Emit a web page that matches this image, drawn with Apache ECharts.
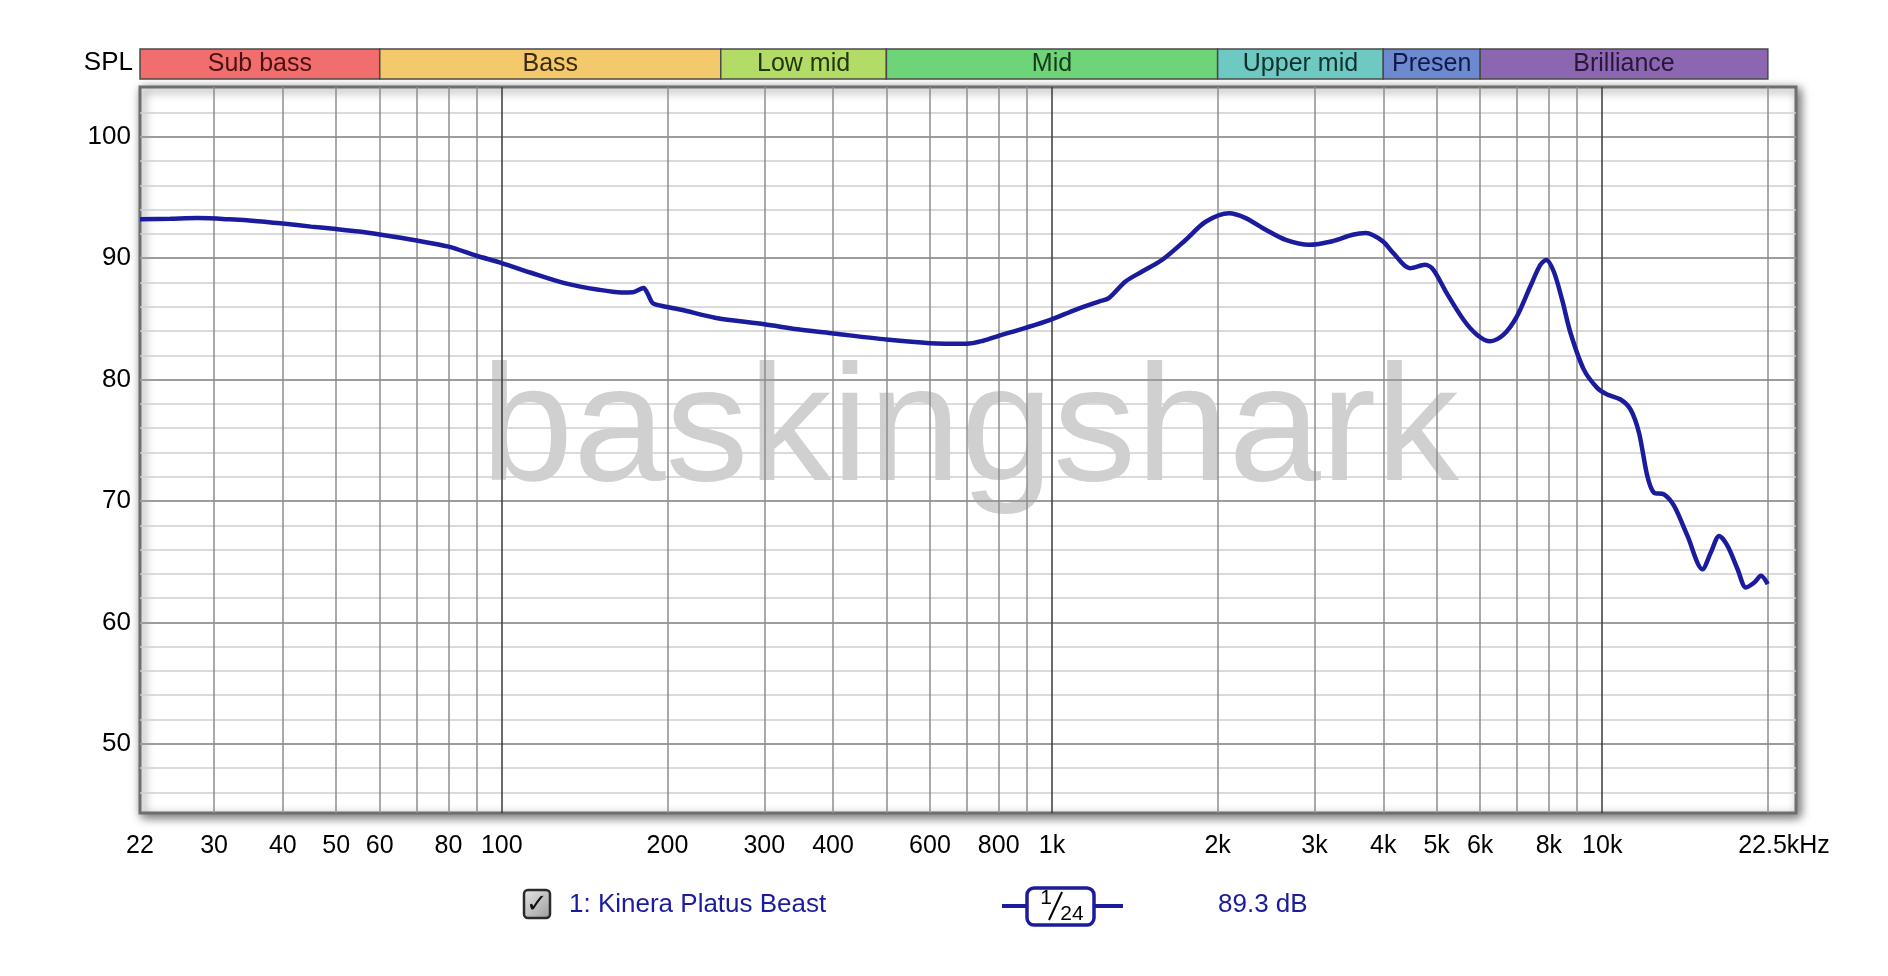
<!DOCTYPE html>
<html>
<head>
<meta charset="utf-8">
<script src="https://cdn.jsdelivr.net/npm/echarts@6/dist/echarts.min.js"></script>
<style>
html,body{margin:0;padding:0;background:#fff;}
#chart{width:1888px;height:976px;}
</style>
</head>
<body>
<div id="chart"></div>
<script>
// ---- data ----
const freqHz = [22,25,28,32,36,40,45,50,55,60,70,80,90,100,113,130,150,165,173,181,184,188,195,212,244,300,350,400,500,600,700,750,800,892,990,1103,1216,1268,1360,1458,1586,1749,1902,2098,2249,2446,2660,2933,3234,3518,3720,3989,4172,4474,4764,4933,5216,5596,5918,6258,6617,6998,7400,7717,7916,8164,8454,8757,9260,9792,10210,10797,11262,11663,12078,12420,12950,13510,14287,15211,15753,16314,16895,17620,18248,18898,19434,19990];
const splDb = [93.2,93.25,93.3,93.2,93.05,92.85,92.6,92.4,92.2,91.95,91.45,90.95,90.2,89.6,88.8,87.95,87.4,87.18,87.2,87.55,87.1,86.3,86.08,85.75,85.1,84.55,84.1,83.8,83.3,83.0,82.95,83.2,83.6,84.24,84.9,85.75,86.43,86.71,88.08,88.9,89.87,91.5,93.0,93.7,93.3,92.34,91.5,91.1,91.4,91.93,92.07,91.4,90.41,89.18,89.45,89.04,87.12,84.93,83.7,83.15,83.7,85.21,87.67,89.45,89.86,88.9,86.58,83.84,80.82,79.32,78.77,78.36,77.53,75.62,72.05,70.68,70.55,69.59,67.12,64.38,65.75,67.12,66.3,64.38,62.88,63.29,63.84,63.15];

const xTickValues = [22,30,40,50,60,80,100,200,300,400,600,800,1000,2000,3000,4000,5000,6000,8000,10000,22500];
const xTickLabels = ['22','30','40','50','60','80','100','200','300','400','600','800','1k','2k','3k','4k','5k','6k','8k','10k','22.5kHz'];
const yTickValues = [50,60,70,80,90,100];
const yTickLabels = ['50','60','70','80','90','100'];

const bandNames = ['Sub bass','Bass','Low mid','Mid','Upper mid','Presen','Brilliance'];
const bandEdges = [22,60,250,500,2000,4000,6000,20000];
const bandColors = ['#f26d6d','#f4c96c','#b2dc66','#6dd478','#6ec9c3','#6d89cf','#8c66b0'];
const bandTextColors = ['#4a1212','#3a2a10','#24360e','#143a1a','#10302e','#101a4a','#2a1638'];

const gridXMinor = [30,40,50,60,70,80,90,200,300,400,500,600,700,800,900,2000,3000,4000,5000,6000,7000,8000,9000,20000];
const gridXMajor = [100,1000,10000];
const gridYMinor = [46,48,52,54,56,58,62,64,66,68,72,74,76,78,82,84,86,88,92,94,96,98,102];
const gridYMajor = [50,60,70,80,90,100];

const seriesName = '1: Kinera Platus Beast';
const smoothingLabel = ['1','24'];
const avgLabel = '89.3 dB';

// ---- chart ----
const FONT = '"Liberation Sans", Arial, sans-serif';
const NAVY = '#1b1b9e';
const chart = echarts.init(document.getElementById('chart'), null, {renderer:'canvas'});

const gridLines = [];
gridYMinor.forEach(v => gridLines.push({yAxis:v, lineStyle:{color:'#cfcfcf', width:1.5, type:'solid'}}));
gridYMajor.forEach(v => gridLines.push({yAxis:v, lineStyle:{color:'#9c9c9c', width:2, type:'solid'}}));
gridXMinor.forEach(v => gridLines.push({xAxis:v, lineStyle:{color:'#8e8e8e', width:1.5, type:'solid'}}));
gridXMajor.forEach(v => gridLines.push({xAxis:v, lineStyle:{color:'#3a3a3a', width:1.5, type:'solid'}}));

const bandAreas = bandNames.map((n,i)=>[
  {name:n, xAxis:bandEdges[i], itemStyle:{color:bandColors[i], borderColor:'#4a4a4a', borderWidth:1.5},
   label:{color:bandTextColors[i]}},
  {xAxis:bandEdges[i+1]}
]);

const option = {
  animation:false,
  backgroundColor:'#fff',
  grid:[
    {left:140, right:92, top:87, bottom:163, show:true, backgroundColor:'#fff',
     borderColor:'#6e6e6e', borderWidth:3,
     shadowColor:'rgba(0,0,0,0.55)', shadowBlur:10, shadowOffsetX:3, shadowOffsetY:3, z:0},
    {left:140, right:92, top:49, height:30, show:false}
  ],
  xAxis:[
    {type:'log', logBase:10, min:22, max:22500, gridIndex:0,
     axisLine:{show:false}, axisTick:{show:false}, axisLabel:{show:false}, splitLine:{show:false}, minorSplitLine:{show:false}},
    {type:'log', logBase:10, min:22, max:22500, gridIndex:1,
     axisLine:{show:false}, axisTick:{show:false}, axisLabel:{show:false}, splitLine:{show:false}}
  ],
  yAxis:[
    {type:'value', min:44.3, max:104.1, gridIndex:0,
     axisLine:{show:false}, axisTick:{show:false}, axisLabel:{show:false}, splitLine:{show:false}},
    {type:'value', min:0, max:1, gridIndex:1,
     axisLine:{show:false}, axisTick:{show:false}, axisLabel:{show:false}, splitLine:{show:false}}
  ],
  series:[
    {type:'line', name:'grid', xAxisIndex:0, yAxisIndex:0, data:[], z:2, silent:true,
     markLine:{silent:true, symbol:'none', animation:false, label:{show:false}, data:gridLines}},
    {type:'line', name:'bands', xAxisIndex:1, yAxisIndex:1, data:[], silent:true,
     markArea:{silent:true, animation:false,
       label:{show:true, position:'inside', color:'#2a1616', fontSize:25, fontFamily:FONT},
       data:bandAreas}},
    {type:'line', name:seriesName, xAxisIndex:0, yAxisIndex:0, z:5,
     data: freqHz.map((f,i)=>[f, splDb[i]]),
     smooth:0.3, showSymbol:false, symbol:'none',
     lineStyle:{color:NAVY, width:4.5}}
  ]
};
chart.setOption(option);

const g = [];
// watermark
g.push({type:'text', x:970, y:434, z:1, silent:true,
  style:{text:'baskingshark', fill:'#d0d0d0', fontSize:166, fontFamily:FONT, align:'center', verticalAlign:'middle'}});
// SPL
g.push({type:'text', x:133, y:63, z:10, style:{text:'SPL', fill:'#000', fontSize:26, fontFamily:FONT, align:'right', verticalAlign:'middle'}});
// x labels
xTickValues.forEach((v,i)=>{
  const px = chart.convertToPixel({xAxisIndex:0}, v) - (i === xTickValues.length-1 ? 12 : 0);
  g.push({type:'text', x:px, y:846, z:10, style:{text:xTickLabels[i], fill:'#000', fontSize:25, fontFamily:FONT, align:'center', verticalAlign:'middle'}});
});
// y labels
yTickValues.forEach((v,i)=>{
  const py = chart.convertToPixel({yAxisIndex:0}, v);
  g.push({type:'text', x:131, y:py, z:10, style:{text:yTickLabels[i], fill:'#000', fontSize:26, fontFamily:FONT, align:'right', verticalAlign:'middle'}});
});
// legend: checkbox
g.push({type:'rect', shape:{x:524, y:890, width:26, height:28, r:4}, z:10,
  style:{fill:new echarts.graphic.LinearGradient(0,0,1,1,[{offset:0,color:'#e8e8e8'},{offset:1,color:'#9a9a9a'}]), stroke:'#2a2a2a', lineWidth:2.5}});
g.push({type:'text', x:537, y:905, z:11, style:{text:'✓', fill:'#111', fontSize:26, fontWeight:'bold', fontFamily:'"DejaVu Sans", sans-serif', align:'center', verticalAlign:'middle'}});
g.push({type:'text', x:569, y:905, z:10, style:{text:seriesName, fill:NAVY, fontSize:26, fontFamily:FONT, align:'left', verticalAlign:'middle'}});
// legend: line + smoothing box
g.push({type:'line', shape:{x1:1002, y1:906, x2:1123, y2:906}, z:10, style:{stroke:NAVY, lineWidth:4}});
g.push({type:'rect', shape:{x:1027, y:888, width:67, height:37, r:7}, z:11, style:{fill:'#fff', stroke:NAVY, lineWidth:3.5}});
g.push({type:'text', x:1046, y:898, z:12, style:{text:smoothingLabel[0], fill:'#000', fontSize:21, fontFamily:FONT, align:'center', verticalAlign:'middle'}});
g.push({type:'line', shape:{x1:1049, y1:920, x2:1062, y2:892}, z:12, style:{stroke:'#000', lineWidth:2}});
g.push({type:'text', x:1072, y:914, z:12, style:{text:smoothingLabel[1], fill:'#000', fontSize:21, fontFamily:FONT, align:'center', verticalAlign:'middle'}});
g.push({type:'text', x:1218, y:905, z:10, style:{text:avgLabel, fill:NAVY, fontSize:26, fontFamily:FONT, align:'left', verticalAlign:'middle'}});

chart.setOption({graphic:g});
</script>
</body>
</html>
